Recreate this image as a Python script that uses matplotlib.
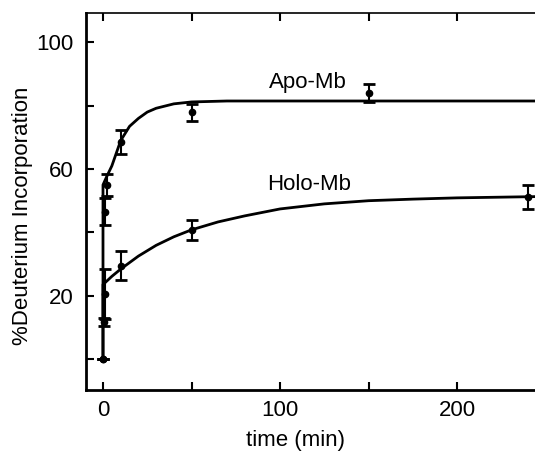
import numpy as np
import matplotlib.pyplot as plt

plt.rcParams['font.family'] = ['Liberation Sans', 'DejaVu Sans']

# measured points (time in min, % deuterium incorporation, error)
apo_t = [0, 1, 2, 10, 50, 150]
apo_v = [0, 46.5, 55, 68.5, 78, 84]
apo_err = [0, 4.2, 3.5, 3.8, 2.7, 2.8]

holo_t = [0, 0.5, 1, 10, 50, 240]
holo_v = [0, 11.7, 20.5, 29.5, 40.8, 51.2]
holo_err = [0, 1.2, 8.0, 4.7, 3.2, 3.8]

# fitted curves
apo_fit_t = [0, 0, 2, 5, 10, 15, 20, 25, 30, 40, 50, 70, 100, 150, 200, 245]
apo_fit_v = [0, 55, 57.5, 61, 69, 73.5, 76, 78, 79.2, 80.6, 81.2, 81.5, 81.5, 81.5, 81.5, 81.5]

holo_fit_t = [0, 0, 5, 10, 20, 30, 40, 50, 65, 80, 100, 125, 150, 175, 200, 245]
holo_fit_v = [0, 23.5, 26.1, 28.4, 32.5, 35.9, 38.6, 40.8, 43.3, 45.2, 47.4, 49.0, 50.0, 50.5, 50.9, 51.3]

fig = plt.figure(figsize=(5.35, 4.55), dpi=100)
ax = fig.add_axes([86/535, 65/455, 1 - 86/535, (390-13)/455])

ax.plot(apo_fit_t, apo_fit_v, color='black', lw=2)
ax.plot(holo_fit_t, holo_fit_v, color='black', lw=2)
ax.errorbar(apo_t, apo_v, yerr=apo_err, fmt='o', color='black', ms=4.5,
            capsize=4, elinewidth=1.5, capthick=2)
ax.errorbar(holo_t, holo_v, yerr=holo_err, fmt='o', color='black', ms=4.5,
            capsize=4, elinewidth=1.5, capthick=2)

ax.text(94, 85.6, 'Apo-Mb', fontsize=16, ha='left', va='baseline')
ax.text(92.5, 53.4, 'Holo-Mb', fontsize=16, ha='left', va='baseline')

ax.set_xlim(-9.6, 244)
ax.set_ylim(-9.8, 109.3)
ax.set_xticks([0, 100, 200])
ax.set_xticks([50, 150], minor=True)
ax.set_yticks([20, 60, 100])
ax.set_yticks([0, 40, 80], minor=True)
ax.tick_params(which='both', direction='in', length=6, width=1.5,
               labelsize=16, top=True, right=False)
ax.tick_params(axis='x', pad=7)
ax.tick_params(axis='y', pad=9)
ax.spines['right'].set_visible(False)
for s in ['left', 'bottom']:
    ax.spines[s].set_linewidth(2)
ax.spines['top'].set_linewidth(1.2)

ax.set_xlabel('time (min)', fontsize=16)
ax.set_ylabel('%Deuterium Incorporation', fontsize=16)
ax.xaxis.set_label_coords((295-86)/449, -(430-390)/377)
ax.yaxis.set_label_coords(-(86-33)/449, (390-216)/377)

fig.savefig('out.png', dpi=100)
